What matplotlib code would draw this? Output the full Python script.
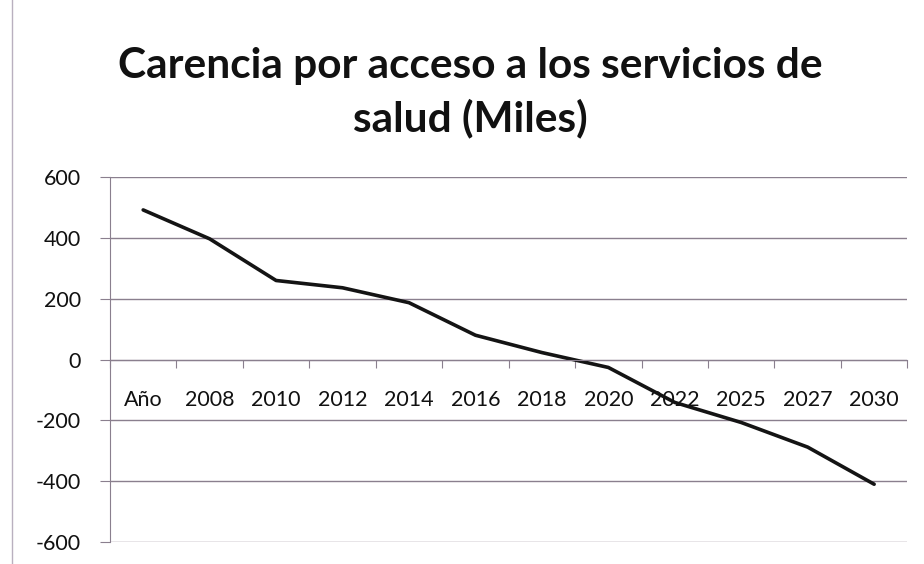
import matplotlib
matplotlib.use('Agg')
import matplotlib.pyplot as plt
import numpy as np

# data
categories = ['Año', '2008', '2010', '2012', '2014', '2016', '2018',
              '2020', '2022', '2025', '2027', '2030']
values = [492, 397, 260, 236, 187, 80, 23, -26, -141, -207, -288, -410]
y_ticks = [-600, -400, -200, 0, 200, 400, 600]

title = 'Carencia por acceso a los servicios de\nsalud (Miles)'

plt.rcParams['font.family'] = ['Lato', 'DejaVu Sans']

fig = plt.figure(figsize=(9.24, 5.64), dpi=100)
ax = fig.add_axes([0.119, 0.039, 0.863, 0.647])

x = np.arange(len(categories))
ax.plot(x, values, color='#141414', linewidth=2.6, solid_capstyle='round')

ax.set_xlim(-0.5, len(categories) - 0.5)
ax.set_ylim(-600, 600)

# gridlines and axes in a muted grey-purple
grid_col = '#8a7f8e'
ax.set_yticks(y_ticks)
ax.set_yticklabels([str(v) for v in y_ticks], fontsize=15.5, color='#111111')
ax.yaxis.grid(True, color=grid_col, linewidth=1.0)
ax.set_axisbelow(True)
ax.tick_params(axis='y', length=7, color=grid_col, pad=14)

# category axis crosses at zero, ticks between categories
ax.spines['bottom'].set_position(('data', 0))
ax.spines['bottom'].set_color(grid_col)
ax.spines['left'].set_color(grid_col)
ax.spines['top'].set_visible(False)
ax.spines['right'].set_visible(False)
ax.set_xticks(np.arange(-0.5, len(categories), 1.0))
ax.set_xticklabels([])
ax.tick_params(axis='x', which='major', length=6, color=grid_col)
ax.set_xticks(x, minor=True)
ax.set_xticklabels(categories, minor=True, fontsize=15.5, color='#111111')
ax.tick_params(axis='x', which='minor', length=0, pad=22)

fig.text(0.509, 0.836, title, ha='center', va='center', fontsize=30.5,
         fontweight='bold', linespacing=1.42, color='#111111')

# outer chart frame line on the left
fig.add_artist(plt.Line2D([0.013, 0.013], [0.0, 1.0], color='#b9b0bf',
                          linewidth=1.0))

fig.savefig('out.png', dpi=100)
